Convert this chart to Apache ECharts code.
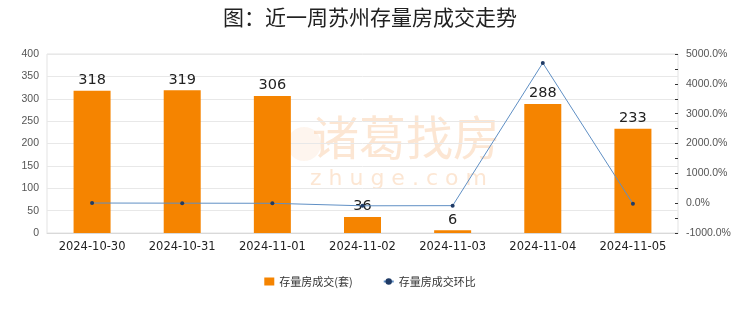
<!DOCTYPE html>
<html><head><meta charset="utf-8">
<script src="https://cdn.jsdelivr.net/npm/echarts@6/dist/echarts.min.js"></script>
<style>html,body{margin:0;padding:0;background:#fff}#c{width:740px;height:312px}</style>
</head><body><div id="c"></div>
<script>
const categories = ['2024-10-30','2024-10-31','2024-11-01','2024-11-02','2024-11-03','2024-11-04','2024-11-05'];
const deals = [318, 319, 306, 36, 6, 288, 233];
const ratio = [5, 0.3, -4.1, -88.2, -83.3, 4700, -19.1];
const leftTicks = [0, 400, 50];
const rightTicks = [-1000, 5000, 1000];

const chart = echarts.init(document.getElementById('c'));
chart.setOption({
  animation: false,
  title: {text: '图：近一周苏州存量房成交走势', left: 'center', top: 2,
    textStyle: {fontSize: 21, fontWeight: 'normal', color: '#222', fontFamily: 'Noto Sans CJK SC'}},
  graphic: [
    {type: 'circle', left: 287, top: 127, z: -1, shape: {r: 17}, style: {fill: 'rgba(248,200,160,0.18)'}},
    {type: 'text', left: 312, top: 114, z: -1, style: {text: '诸葛找房', fontSize: 47, fill: 'rgba(248,196,150,0.42)', fontFamily: 'Noto Sans CJK SC'}},
    {type: 'text', left: 310, top: 168, z: -1, style: {text: 'z h u g e . c o m', fontSize: 22, fill: 'rgba(248,196,150,0.42)', fontFamily: 'DejaVu Sans'}}
  ],
  grid: {left: 47, right: 62, top: 54, bottom: 79, show: true, borderColor: '#e3e3e3', borderWidth: 1},
  legend: {bottom: 20, itemGap: 30, itemWidth: 10, itemHeight: 8,
    textStyle: {fontSize: 11, color: '#333', fontFamily: 'Noto Sans CJK SC'},
    data: [{name: '存量房成交(套)', icon: 'rect', itemStyle: {color: '#f58400'}}, {name: '存量房成交环比'}]},
  xAxis: {type: 'category', data: categories,
    axisLine: {lineStyle: {color: '#d9d9d9'}}, axisTick: {show: false},
    axisLabel: {interval: 0, fontSize: 11.5, color: '#222', margin: 8, fontFamily: 'DejaVu Sans'}},
  yAxis: [
    {type: 'value', min: leftTicks[0], max: leftTicks[1], interval: leftTicks[2],
      axisLine: {show: false}, axisTick: {show: false},
      axisLabel: {fontSize: 10.5, color: '#555', margin: 8, fontFamily: 'Liberation Sans'},
      splitLine: {lineStyle: {color: '#e8e8e8'}}},
    {type: 'value', min: rightTicks[0], max: rightTicks[1], interval: rightTicks[2],
      axisLine: {show: false}, axisTick: {show: true, inside: true, length: 3, lineStyle: {color: '#333'}},
      minorTick: {show: true, splitNumber: 2, length: 3, lineStyle: {color: '#333'}},
      axisLabel: {fontSize: 10.5, color: '#555', margin: 8, fontFamily: 'Liberation Sans',
        formatter: v => v.toFixed(1) + '%'},
      splitLine: {show: false}}
  ],
  series: [
    {name: '存量房成交(套)', type: 'bar', data: deals, barWidth: 37,
      itemStyle: {color: '#f58400'},
      label: {show: true, position: 'top', fontSize: 14.5, color: '#222', distance: 3, fontFamily: 'DejaVu Sans'}},
    {name: '存量房成交环比', type: 'line', yAxisIndex: 1, data: ratio,
      symbol: 'circle', symbolSize: 4,
      lineStyle: {color: '#5f8fc4', width: 1},
      itemStyle: {color: '#1f3b66'}}
  ]
});
</script></body></html>
